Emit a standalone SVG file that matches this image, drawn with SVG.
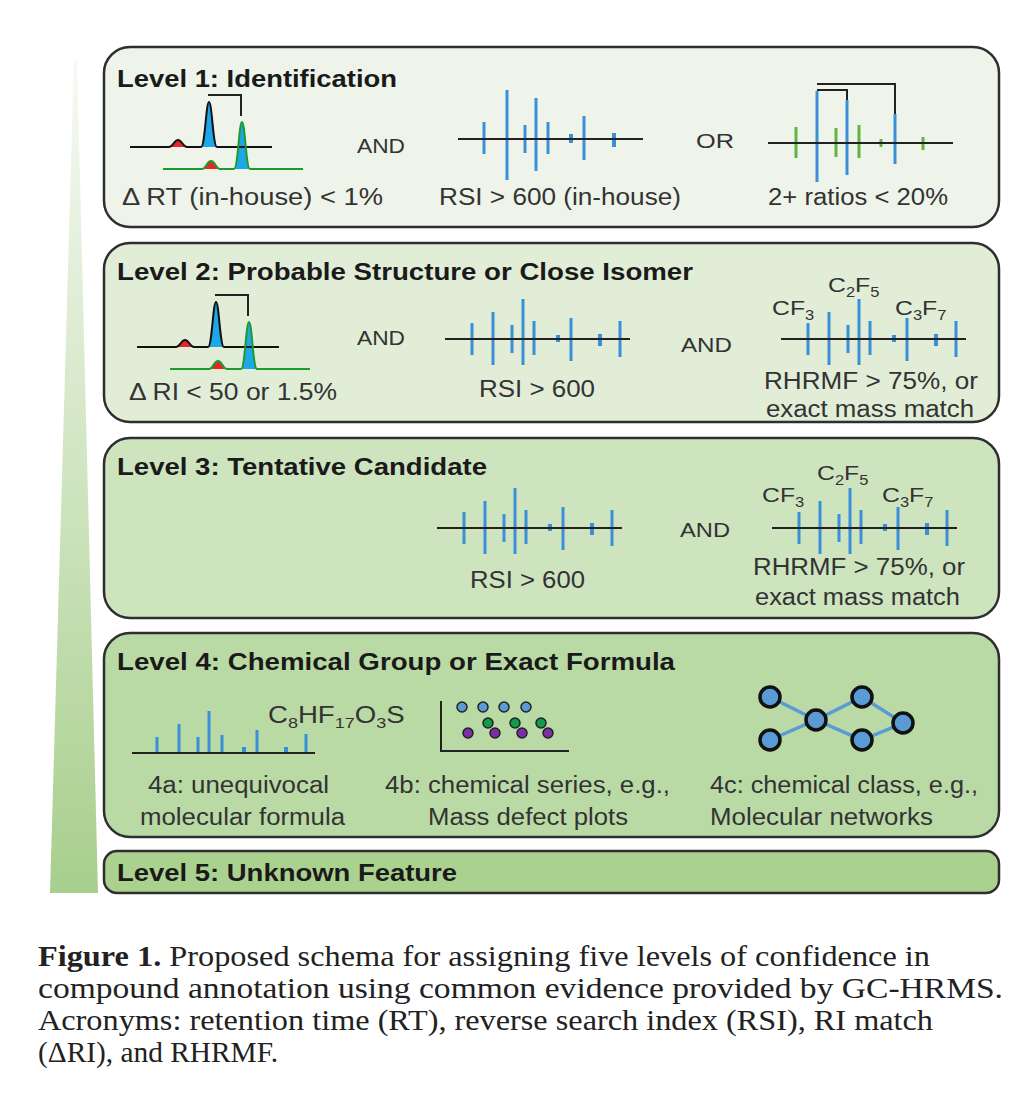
<svg xmlns="http://www.w3.org/2000/svg" width="1013" height="1100" viewBox="0 0 1013 1100">
<style>
.box{stroke:#2e2e2e;stroke-width:2.5}
.t{font-family:"Liberation Sans",Arial,sans-serif;font-weight:bold;font-size:23px;fill:#1a1a1a}
.b{font-family:"Liberation Sans",Arial,sans-serif;font-size:23px;fill:#333}
.s{font-family:"Liberation Sans",Arial,sans-serif;font-size:21px;fill:#333}
.ax{stroke:#222;stroke-width:2;fill:none}
.st{stroke:#3a8fd9;stroke-width:3;fill:none}
.sb{stroke:#3a8fd9;stroke-width:4;fill:none}
.sg{stroke:#62b245;stroke-width:3;fill:none}
.br{stroke:#222;stroke-width:2;fill:none}
.tk{stroke:#111;stroke-width:2;fill:none}
.tg{stroke:#1d9a2c;stroke-width:2;fill:none}
.red{fill:#e8262a}
.blu{fill:#1ea6e8}
.cap{font-family:"Liberation Serif","Times New Roman",serif;font-size:29px;fill:#222}
.dot{stroke:#222;stroke-width:1.5}
.nd{fill:#5b9bd5;stroke:#111;stroke-width:3.5}
.ne{stroke:#5b9bd5;stroke-width:3.5;fill:none}
</style>
<defs>
<linearGradient id="wg" x1="0" y1="0" x2="0" y2="1">
<stop offset="0" stop-color="#f7faf4"/>
<stop offset="1" stop-color="#a8cf8d"/>
</linearGradient>
<g id="chrom">
<path class="red" d="M169,147 C173,147 174,140 178,140 C182,140 183,147 187,147 Z"/>
<path class="blu" d="M201,147 C205,147 206,102 209,102 C212,102 213,147 217,147 Z"/>
<path class="red" d="M202,169 C206,169 207,161 211,161 C215,161 216,169 220,169 Z"/>
<path class="blu" d="M234,169 C238,169 239,122 242,122 C245,122 246,169 250,169 Z"/>
<path class="tk" d="M130,147 H169 C173,147 174,140 178,140 C182,140 183,147 187,147 H201 C205,147 206,102 209,102 C212,102 213,147 217,147 H272"/>
<path class="tg" d="M163,169 H202 C206,169 207,161 211,161 C215,161 216,169 220,169 H234 C238,169 239,122 242,122 C245,122 246,169 250,169 H303"/>
<path class="br" d="M208,95 H241 V116"/>
</g>
<g id="spec9">
<path class="st" d="M27,-16V16 M48,-27V26 M67,-14V14 M78,-40V26 M89,-18V16 M126,-21V22 M175,-18V18"/>
<path class="sb" d="M113,-4V3 M155,-5V7"/>
<line class="ax" x1="0" y1="0" x2="185" y2="0"/>
</g>
</defs>
<rect width="1013" height="1100" fill="#fff"/>
<polygon id="wedge" points="74,60 77,60 98,893 50,893" fill="url(#wg)"/>

<g id="level1">
<rect class="box" x="104" y="47" width="895" height="180" rx="26" fill="#eff4eb"/>
<text class="t" x="117" y="87" textLength="280" lengthAdjust="spacingAndGlyphs">Level 1: Identification</text>
<use href="#chrom"/>
<text class="s" x="357" y="153" textLength="48" lengthAdjust="spacingAndGlyphs">AND</text>
<text class="b" x="122" y="205" textLength="261" lengthAdjust="spacingAndGlyphs">Δ RT (in-house) &lt; 1%</text>
<path class="st" d="M484,122V154 M507,90V180 M525,125V153 M536,98V171 M548,122V154 M584,116V160"/>
<path class="sb" d="M571,134V143 M614,133V147"/>
<line class="ax" x1="458" y1="139" x2="643" y2="139"/>
<text class="b" x="439" y="205" textLength="242" lengthAdjust="spacingAndGlyphs">RSI &gt; 600 (in-house)</text>
<text class="s" x="696" y="148" textLength="38" lengthAdjust="spacingAndGlyphs">OR</text>
<path class="sg" d="M796,127V158 M836,128V157 M859,125V158 M923,137V150"/>
<path class="sg" stroke-width="4" d="M881,139V147"/>
<path class="st" d="M817,91V182 M847,100V175 M895,114V164"/>
<line class="ax" x1="768" y1="143" x2="953" y2="143"/>
<path class="br" d="M817,84 H895 V114 M817,90 H847 V100"/>
<text class="b" x="768" y="205" textLength="180" lengthAdjust="spacingAndGlyphs">2+ ratios &lt; 20%</text>
</g>

<g id="level2">
<rect class="box" x="104" y="243" width="895" height="179" rx="26" fill="#e1edd7"/>
<text class="t" x="117" y="280" textLength="576" lengthAdjust="spacingAndGlyphs">Level 2: Probable Structure or Close Isomer</text>
<use href="#chrom" transform="translate(7,200)"/>
<text class="s" x="357" y="345" textLength="48" lengthAdjust="spacingAndGlyphs">AND</text>
<text class="b" x="129" y="400" textLength="208" lengthAdjust="spacingAndGlyphs">Δ RI &lt; 50 or 1.5%</text>
<use href="#spec9" x="445" y="339"/>
<text class="b" x="479" y="397" textLength="116" lengthAdjust="spacingAndGlyphs">RSI &gt; 600</text>
<text class="s" x="681" y="352" textLength="51" lengthAdjust="spacingAndGlyphs">AND</text>
<use href="#spec9" x="781" y="339"/>
<text class="s" transform="translate(772,315) scale(1.18,1)">CF<tspan font-size="14" dy="5">3</tspan></text>
<text class="s" transform="translate(828,292) scale(1.18,1)">C<tspan font-size="14" dy="5">2</tspan><tspan dy="-5">F</tspan><tspan font-size="14" dy="5">5</tspan></text>
<text class="s" transform="translate(895,315) scale(1.18,1)">C<tspan font-size="14" dy="5">3</tspan><tspan dy="-5">F</tspan><tspan font-size="14" dy="5">7</tspan></text>
<text class="b" x="764" y="389" textLength="214" lengthAdjust="spacingAndGlyphs">RHRMF &gt; 75%, or</text>
<text class="b" x="766" y="417" font-size="22" textLength="208" lengthAdjust="spacingAndGlyphs">exact mass match</text>
</g>

<g id="level3">
<rect class="box" x="104" y="438" width="895" height="180" rx="26" fill="#cee4bf"/>
<text class="t" x="117" y="475" textLength="370" lengthAdjust="spacingAndGlyphs">Level 3: Tentative Candidate</text>
<use href="#spec9" x="437" y="528"/>
<text class="b" x="470" y="588" textLength="115" lengthAdjust="spacingAndGlyphs">RSI &gt; 600</text>
<text class="s" x="680" y="537" textLength="50" lengthAdjust="spacingAndGlyphs">AND</text>
<use href="#spec9" x="772" y="528"/>
<text class="s" transform="translate(762,502) scale(1.18,1)">CF<tspan font-size="14" dy="5">3</tspan></text>
<text class="s" transform="translate(817,480) scale(1.18,1)">C<tspan font-size="14" dy="5">2</tspan><tspan dy="-5">F</tspan><tspan font-size="14" dy="5">5</tspan></text>
<text class="s" transform="translate(882,502) scale(1.18,1)">C<tspan font-size="14" dy="5">3</tspan><tspan dy="-5">F</tspan><tspan font-size="14" dy="5">7</tspan></text>
<text class="b" x="753" y="575" textLength="212" lengthAdjust="spacingAndGlyphs">RHRMF &gt; 75%, or</text>
<text class="b" x="755" y="605" textLength="205" lengthAdjust="spacingAndGlyphs">exact mass match</text>
</g>

<g id="level4">
<rect class="box" x="104" y="633" width="895" height="204" rx="26" fill="#badaa5"/>
<text class="t" x="117" y="670" textLength="558" lengthAdjust="spacingAndGlyphs">Level 4: Chemical Group or Exact Formula</text>
<path class="st" d="M157,737V753 M179,724V753 M198,737V753 M209,711V753 M222,735V753 M257,730V753 M306,734V753"/>
<path class="sb" d="M244,747V753 M286,747V753"/>
<line class="ax" x1="132" y1="753" x2="315" y2="753"/>
<text class="b" transform="translate(268,723) scale(1.2,1)">C<tspan font-size="15" dy="5">8</tspan><tspan dy="-5">HF</tspan><tspan font-size="15" dy="5">17</tspan><tspan dy="-5">O</tspan><tspan font-size="15" dy="5">3</tspan><tspan dy="-5">S</tspan></text>
<text class="b" x="148" y="793" textLength="181" lengthAdjust="spacingAndGlyphs">4a: unequivocal</text>
<text class="b" x="140" y="825" textLength="205" lengthAdjust="spacingAndGlyphs">molecular formula</text>
<path class="ax" stroke-width="2.5" d="M441,701 V751 H569"/>
<g class="dot">
<circle cx="462" cy="707" r="5" fill="#5b9bd5"/>
<circle cx="483" cy="707" r="5" fill="#5b9bd5"/>
<circle cx="504" cy="707" r="5" fill="#5b9bd5"/>
<circle cx="526" cy="707" r="5" fill="#5b9bd5"/>
<circle cx="468" cy="733" r="5" fill="#7b2fa6"/>
<circle cx="488" cy="723" r="5" fill="#0f9b4a"/>
<circle cx="495" cy="733" r="5" fill="#7b2fa6"/>
<circle cx="515" cy="723" r="5" fill="#0f9b4a"/>
<circle cx="522" cy="733" r="5" fill="#7b2fa6"/>
<circle cx="541" cy="723" r="5" fill="#0f9b4a"/>
<circle cx="548" cy="733" r="5" fill="#7b2fa6"/>
</g>
<text class="b" x="385" y="793" textLength="285" lengthAdjust="spacingAndGlyphs">4b: chemical series, e.g.,</text>
<text class="b" x="428" y="825" textLength="200" lengthAdjust="spacingAndGlyphs">Mass defect plots</text>
<path class="ne" d="M770,697 L816,720 L862,697 L903,723 L862,740 L816,720 L770,740"/>
<circle class="nd" cx="770" cy="697" r="10"/>
<circle class="nd" cx="770" cy="740" r="10"/>
<circle class="nd" cx="816" cy="720" r="10"/>
<circle class="nd" cx="862" cy="697" r="10"/>
<circle class="nd" cx="862" cy="740" r="10"/>
<circle class="nd" cx="903" cy="723" r="10"/>
<text class="b" x="710" y="793" textLength="268" lengthAdjust="spacingAndGlyphs">4c: chemical class, e.g.,</text>
<text class="b" x="710" y="825" textLength="223" lengthAdjust="spacingAndGlyphs">Molecular networks</text>
</g>

<g id="level5">
<rect class="box" x="104" y="851" width="895" height="42" rx="13" fill="#abd18f"/>
<text class="t" x="117" y="881" textLength="340" lengthAdjust="spacingAndGlyphs">Level 5: Unknown Feature</text>
</g>

<g id="connectors"></g>

<g id="caption">
<text class="cap" x="38" y="966" textLength="892" lengthAdjust="spacingAndGlyphs"><tspan font-weight="bold">Figure 1.</tspan> Proposed schema for assigning five levels of confidence in</text>
<text class="cap" x="38" y="998" textLength="965" lengthAdjust="spacingAndGlyphs">compound annotation using common evidence provided by GC-HRMS.</text>
<text class="cap" x="38" y="1030" textLength="895" lengthAdjust="spacingAndGlyphs">Acronyms: retention time (RT), reverse search index (RSI), RI match</text>
<text class="cap" x="38" y="1062" textLength="240" lengthAdjust="spacingAndGlyphs">(ΔRI), and RHRMF.</text>
</g>
</svg>
